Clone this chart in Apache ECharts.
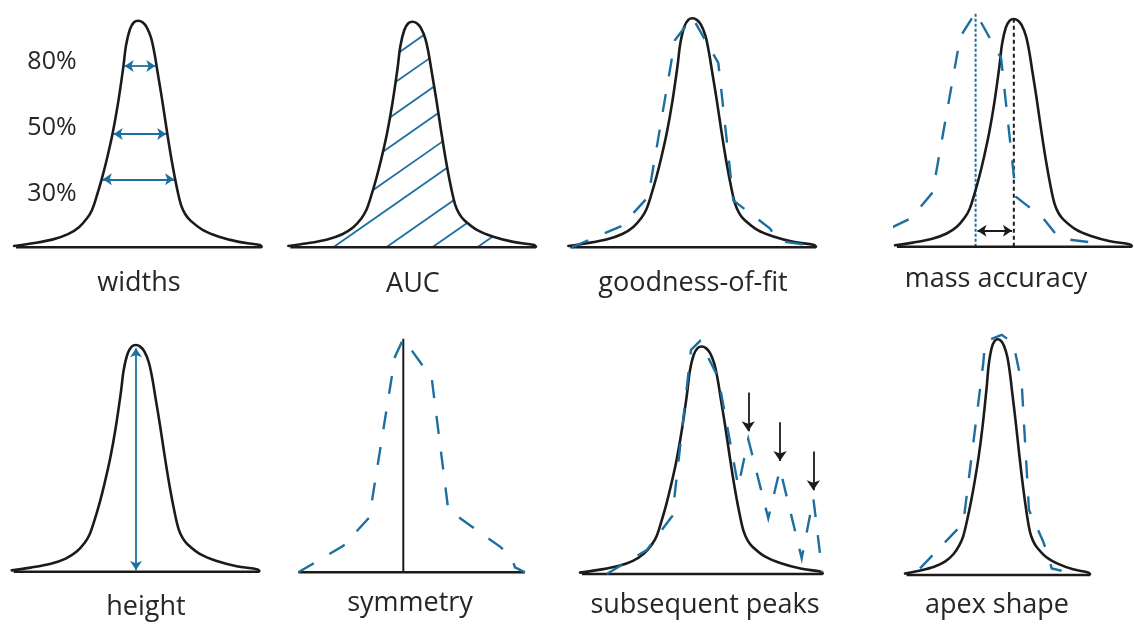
<!DOCTYPE html>
<html>
<head>
<meta charset="utf-8">
<title>Peak quality features</title>
<script src="https://cdn.jsdelivr.net/npm/echarts@6/dist/echarts.min.js"></script>
<style>
  html, body { margin: 0; padding: 0; background: #ffffff; }
  #chart { width: 1134px; height: 625px; }
</style>
</head>
<body>
<div id="chart"></div>
<script>
// ---- data: retention time (arbitrary units) vs. intensity (% of apex) ----

// idealised chromatographic peak, reused in every panel
const peakTime = [0, 1.9, 3.9, 5.4, 6.5, 7.3, 7.8, 8.3, 8.8, 9.3, 9.85, 10.4, 10.93, 11.2, 11.6, 12.0, 12.43,
  12.85, 13.25, 13.7, 14.05, 14.35, 14.8, 15.3, 15.8, 16.3, 16.7, 17.1, 17.6, 18.9, 20.5, 22.5, 24.6, 24.77];
const peakIntensity = [0.6, 1.8, 3.5, 5.8, 8.9, 12.8, 16.5, 23, 30.5, 39.2, 50, 63.5, 79.5, 89, 96.3, 99.3, 100,
  99.3, 97.3, 92.5, 85.5, 77.5, 65.5, 51, 37.5, 26, 18.7, 14.8, 12.0, 7.6, 4.7, 2.4, 1.0, 0.3];

// peak widths measured at these heights (% of apex)
const widthLevels = [80, 50, 30];

// AUC hatching: baseline intercepts of the hatch lines and their slope (% per time unit)
const hatchOffsets = [-16.8, -12.9, -8.4, -4.2, 0.3, 4.5, 9.8, 14.4, 18.9];
const hatchSlope = 3.1;

// fitted trace for goodness-of-fit
const fitTime = [0.34, 5.34, 8.0, 10.67, 12.4, 15.0, 16.5, 20.17, 21.0, 24.5];
const fitIntensity = [0, 9.3, 22.1, 90.5, 100.4, 80.5, 20.5, 8.2, 2.9, 0.6];

// trace at a shifted m/z (mass accuracy)
const shiftTime = [-3.67, 1.67, 3.93, 6.83, 8.43, 11.1, 12.67, 15.5, 17.17, 20.67];
const shiftIntensity = [1.8, 12.5, 23.8, 92.2, 102.8, 82.7, 21.9, 12.5, 3.7, 1.8];
const shiftArrowLevel = 7;

// asymmetric trace (symmetry)
const symTime = [0, 4.5, 7.1, 9.67, 10.5, 13.34, 15.0, 20.17, 21.34, 21.67, 22.67];
const symIntensity = [0, 11.3, 23.5, 92.3, 100, 83.1, 26.7, 11.0, 6.4, 2.1, 0];

// trace with trailing peaks (subsequent peaks)
const subsTime = [2.72, 6.81, 9.42, 11.33, 12.24, 14.11, 16.15, 17.17, 19.21, 20.41, 22.62, 23.81, 24.72];
const subsIntensity = [0, 10.5, 25.5, 98.5, 102.4, 86.3, 38.4, 59.3, 24.5, 46.2, 6.9, 33.3, 0.7];

// trace with a flattened top (apex shape)
const apexTime = [2.01, 7.8, 10.48, 10.71, 12.94, 14.5, 15.62, 16.6, 18.51, 19.41, 19.63, 20.97];
const apexIntensity = [2.8, 22.0, 89.9, 99.0, 101.9, 98.4, 81.4, 27.6, 14.1, 5.6, 2.8, 1.8];

const panelTitles = ['widths', 'AUC', 'goodness-of-fit', 'mass accuracy',
  'height', 'symmetry', 'subsequent peaks', 'apex shape'];

// ---- layout ----
const panels = [
  { left: 14,    top: 20.7,  width: 250,    height: 226.6 },
  { left: 288.3, top: 21.7,  width: 250,    height: 225.6 },
  { left: 568.3, top: 18.3,  width: 250,    height: 229 },
  { left: 895,   top: 19,    width: 250,    height: 227.7 },
  { left: 11.7,  top: 345,   width: 250,    height: 226.7 },
  { left: 298.3, top: 338.7, width: 250,    height: 233.6 },
  { left: 580,   top: 346.5, width: 245,    height: 227.5 },
  { left: 905,   top: 339.3, width: 186.75, height: 235.7 }
];
const titlePos = [[139, 283], [413, 284], [693, 283], [996, 279],
                  [146, 607], [410, 603], [705, 605], [997, 605]];
const levelLabelPos = [[52, 62], [52, 128], [52, 194]];

const BLUE = '#1d6fa0';
const INK = '#1b1b1b';
const TEXT = '#262626';
const DASH = [18, 18];

// ---- helpers ----
const zip = (xs, ys) => xs.map((x, i) => [x, ys[i]]);
const apexIndex = ys => ys.indexOf(Math.max(...ys));

function crossing(xs, ys, level, side) {
  const a = apexIndex(ys);
  if (side === 'left') {
    for (let i = 0; i < a; i++) {
      if (ys[i] <= level && ys[i + 1] >= level)
        return xs[i] + (level - ys[i]) / (ys[i + 1] - ys[i]) * (xs[i + 1] - xs[i]);
    }
  } else {
    for (let i = a; i < xs.length - 1; i++) {
      if (ys[i] >= level && ys[i + 1] <= level)
        return xs[i] + (ys[i] - level) / (ys[i] - ys[i + 1]) * (xs[i + 1] - xs[i]);
    }
  }
  return null;
}

function profileAt(x) {
  if (x < peakTime[0] || x > peakTime[peakTime.length - 1]) return 0;
  for (let i = 0; i < peakTime.length - 1; i++) {
    if (x >= peakTime[i] && x <= peakTime[i + 1]) {
      const f = (x - peakTime[i]) / (peakTime[i + 1] - peakTime[i]);
      return peakIntensity[i] + f * (peakIntensity[i + 1] - peakIntensity[i]);
    }
  }
  return 0;
}

// longest stretch of a hatch line that lies under the peak
function hatchSegment(x0) {
  const end = peakTime[peakTime.length - 1];
  let best = null, run = null;
  for (let x = Math.max(x0, peakTime[0]); x <= end; x += 0.005) {
    const y = hatchSlope * (x - x0);
    if (y <= profileAt(x)) {
      if (!run) run = [[x, y], [x, y]];
      else run[1] = [x, y];
    } else if (run) {
      if (!best || run[1][0] - run[0][0] > best[1][0] - best[0][0]) best = run;
      run = null;
    }
  }
  if (run && (!best || run[1][0] - run[0][0] > best[1][0] - best[0][0])) best = run;
  return best;
}

const series = [];
const xAxes = [];
const yAxes = [];
const grids = panels.map((p, i) => {
  xAxes.push({ type: 'value', gridIndex: i, min: 0, max: 25, show: false });
  yAxes.push({ type: 'value', gridIndex: i, min: 0, max: 100, show: false });
  return { left: p.left, top: p.top, width: p.width, height: p.height, containLabel: false };
});

function curve(g) {
  series.push({
    type: 'line', xAxisIndex: g, yAxisIndex: g, data: zip(peakTime, peakIntensity),
    smooth: 0.35, showSymbol: false, clip: false, silent: true, z: 3,
    lineStyle: { color: INK, width: 2.6, cap: 'round', join: 'round' }
  });
}
function straight(g, coords, color, width, type, z) {
  series.push({
    type: 'line', xAxisIndex: g, yAxisIndex: g, data: coords, showSymbol: false,
    clip: false, silent: true, z: z || 3,
    lineStyle: { color: color, width: width, type: type || 'solid', cap: 'butt' }
  });
}
function baseline(g, x0, x1) {
  straight(g, [[x0, 0], [x1, 0]], INK, 2.6, 'solid', 3);
}
function dashed(g, xs, ys) {
  series.push({
    type: 'line', xAxisIndex: g, yAxisIndex: g, data: zip(xs, ys),
    smooth: false, showSymbol: false, clip: false, silent: true, z: 4,
    lineStyle: { color: BLUE, width: 2.4, type: DASH, cap: 'butt', join: 'miter' }
  });
}
function segments(g, list, color, width, symbol, size) {
  series.push({
    type: 'lines', coordinateSystem: 'cartesian2d', xAxisIndex: g, yAxisIndex: g,
    polyline: false, clip: false, silent: true, z: 2,
    symbol: symbol, symbolSize: size || 9,
    lineStyle: { color: color, width: width, opacity: 1, curveness: 0 },
    data: list.map(c => ({ coords: c }))
  });
}

const lastT = peakTime[peakTime.length - 1];

// 1 widths
curve(0); baseline(0, 0.2, lastT);
segments(0, widthLevels.map(L => {
  const xl = crossing(peakTime, peakIntensity, L, 'left');
  const xr = crossing(peakTime, peakIntensity, L, 'right');
  return [[xl + 0.12, L], [xr - 0.12, L]];
}), BLUE, 1.8, ['arrow', 'arrow'], 9);

// 2 AUC
curve(1); baseline(1, 0.2, lastT);
segments(1, hatchOffsets.map(hatchSegment).filter(Boolean), BLUE, 1.8, ['none', 'none']);

// 3 goodness-of-fit
curve(2); baseline(2, 0.2, lastT);
dashed(2, fitTime, fitIntensity);

// 4 mass accuracy
curve(3); baseline(3, 0.2, lastT);
dashed(3, shiftTime, shiftIntensity);
const sA = apexIndex(shiftIntensity), pA = apexIndex(peakIntensity);
straight(3, [[shiftTime[sA], 0], [shiftTime[sA], shiftIntensity[sA]]], BLUE, 2, [3, 2], 2);
straight(3, [[peakTime[pA], 0], [peakTime[pA], peakIntensity[pA]]], INK, 2, [4, 3], 2);
segments(3, [[[shiftTime[sA] + 0.2, shiftArrowLevel], [peakTime[pA] - 0.2, shiftArrowLevel]]],
  INK, 1.8, ['arrow', 'arrow'], 9);

// 5 height
curve(4); baseline(4, 0.2, lastT);
segments(4, [[[peakTime[pA], 0.8], [peakTime[pA], peakIntensity[pA] - 1.4]]], BLUE, 1.8, ['arrow', 'arrow'], 9);

// 6 symmetry
const yA = apexIndex(symIntensity);
baseline(5, symTime[0], symTime[symTime.length - 1]);
straight(5, [[symTime[yA], 0], [symTime[yA], symIntensity[yA]]], INK, 2, 'solid', 3);
dashed(5, symTime, symIntensity);

// 7 subsequent peaks
curve(6); baseline(6, 0.2, lastT);
dashed(6, subsTime, subsIntensity);
const mainApex = apexIndex(subsIntensity);
const trailing = [];
for (let i = mainApex + 1; i < subsIntensity.length - 1; i++) {
  if (subsIntensity[i] > subsIntensity[i - 1] && subsIntensity[i] > subsIntensity[i + 1]) {
    trailing.push([[subsTime[i], subsIntensity[i] + 20.5], [subsTime[i], subsIntensity[i] + 3.5]]);
  }
}
segments(6, trailing, INK, 1.8, ['none', 'arrow'], 10);

// 8 apex shape
curve(7); baseline(7, 0.2, lastT);
dashed(7, apexTime, apexIntensity);

// ---- text ----
const textEls = [];
const txt = (s, p, size) => ({
  type: 'text', x: p[0], y: p[1], silent: true,
  style: {
    text: s, fill: TEXT, font: size + 'px "Open Sans", "Noto Sans", sans-serif',
    align: 'center', verticalAlign: 'middle', textAlign: 'center', textVerticalAlign: 'middle'
  }
});
panelTitles.forEach((t, i) => textEls.push(txt(t, titlePos[i], 27)));
widthLevels.forEach((L, i) => textEls.push(txt(L + '%', levelLabelPos[i], 25)));

const chart = echarts.init(document.getElementById('chart'), null, { renderer: 'canvas' });
chart.setOption({
  animation: false,
  backgroundColor: '#ffffff',
  grid: grids,
  xAxis: xAxes,
  yAxis: yAxes,
  series: series,
  graphic: { elements: textEls }
});
</script>
</body>
</html>
